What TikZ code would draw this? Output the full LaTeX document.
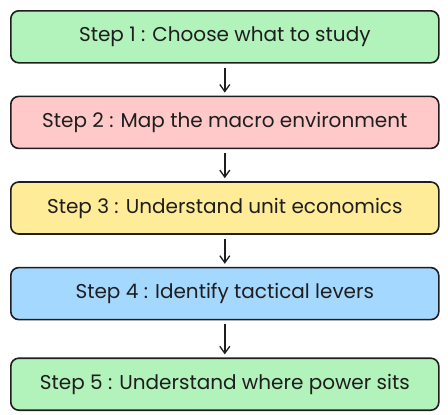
\documentclass[tikz,border=0pt]{standalone}
\usepackage{fontspec}
\setmainfont{Poppins}
\usepackage{xcolor}
\usepackage{tikz}
\usetikzlibrary{arrows.meta, positioning}
\definecolor{trazo}{HTML}{1E1E1E}
\definecolor{verde}{HTML}{B2F2BB}
\definecolor{rojo}{HTML}{FFC9C9}
\definecolor{amarillo}{HTML}{FFEC99}
\definecolor{azul}{HTML}{A5D8FF}

\begin{document}
\begin{tikzpicture}[x=1pt, y=1pt,
    stepbox/.style={rectangle, draw=trazo, line width=1.6pt, text=trazo,
                  minimum width=428pt, minimum height=52pt, inner sep=0pt,
                  align=center, rounded corners=8pt, font=\fontsize{20}{24}\selectfont},
    arrow/.style={-{Straight Barb[length=7pt, width=10pt, line width=1.3pt]},
                  line width=1.5pt, trazo, shorten <=4pt, shorten >=3pt}
]
\useasboundingbox (0,0) rectangle (448,-415);
\node (s1) [stepbox, fill=verde, anchor=north west] at (10,-10) {Step 1 : Choose what to study};
\node (s2) [stepbox, fill=rojo, below=32pt of s1] {Step 2 : Map the macro environment};
\node (s3) [stepbox, fill=amarillo, below=32pt of s2] {Step 3 : Understand unit economics};
\node (s4) [stepbox, fill=azul, below=32pt of s3] {Step 4 : Identify tactical levers};
\node (s5) [stepbox, fill=verde, below=37pt of s4] {Step 5 : Understand where power sits};
\draw [arrow] (s1) -- (s2);
\draw [arrow] (s2) -- (s3);
\draw [arrow] (s3) -- (s4);
\draw [arrow] (s4) -- (s5);
\end{tikzpicture}
\end{document}
